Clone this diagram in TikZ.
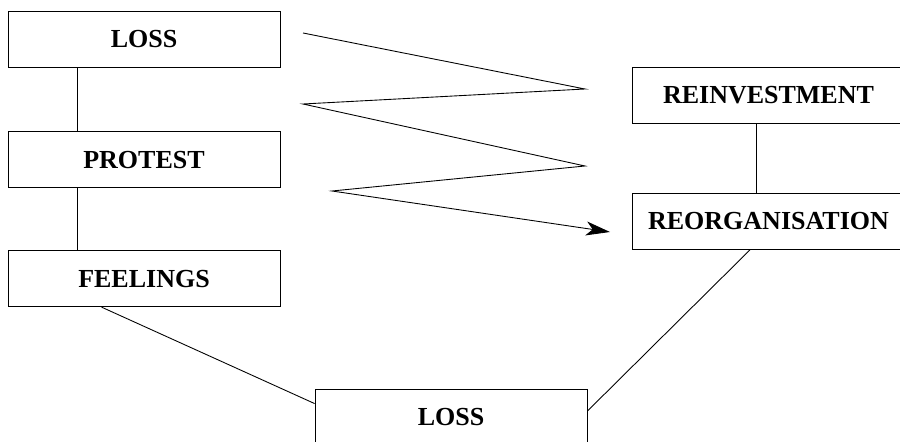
\documentclass[tikz,border=0pt]{standalone}
\usepackage{fontspec}
\setmainfont{Liberation Serif}
\usepackage{tikz}
\usetikzlibrary{positioning,arrows.meta}

\begin{document}
\begin{tikzpicture}[x=0.02cm, y=-0.02cm, line width=0.5pt,
        phase/.style={rectangle, draw, minimum width=5.44cm, minimum height=1.12cm, font=\fontsize{14.8}{17}\selectfont\bfseries}]
        \useasboundingbox (0,0) rectangle (900,442);
        \clip (0,0) rectangle (900,442);

        \node[phase] (loss) at (144,39) {LOSS};
        \node[phase, below=1.28cm of loss] (protest) {PROTEST};
        \node[phase, below=1.24cm of protest] (feelings) {FEELINGS};
        \node[phase] (reinvest) at (768.5,95.5) {REINVESTMENT};
        \node[phase, below=1.38cm of reinvest] (reorg) {REORGANISATION};
        \node[phase] (lossb) at (451,417) {LOSS};

        \draw ([xshift=1.4cm]loss.south west) -- ([xshift=1.4cm]protest.north west);
        \draw ([xshift=1.4cm]protest.south west) -- ([xshift=1.4cm]feelings.north west);
        \draw ([xshift=2.48cm]reinvest.south west) -- ([xshift=2.48cm]reorg.north west);
        \draw ([xshift=1.88cm]feelings.south west) -- ([yshift=-0.3cm]lossb.north west);
        \draw ([yshift=-0.45cm]lossb.north east) -- ([xshift=2.36cm]reorg.south west);

        \coordinate (z1) at (303,33);
        \coordinate (z2) at (585,89);
        \coordinate (z3) at (303,104);
        \coordinate (z4) at (585,166);
        \coordinate (z5) at (332,191);
        \coordinate (z6) at (610,232);
        \draw[-{Stealth[length=4.8mm, width=2.8mm, inset=1.3mm]}] (z1) -- (z2) -- (z3) -- (z4) -- (z5) -- (z6);
    \end{tikzpicture}
\end{document}
